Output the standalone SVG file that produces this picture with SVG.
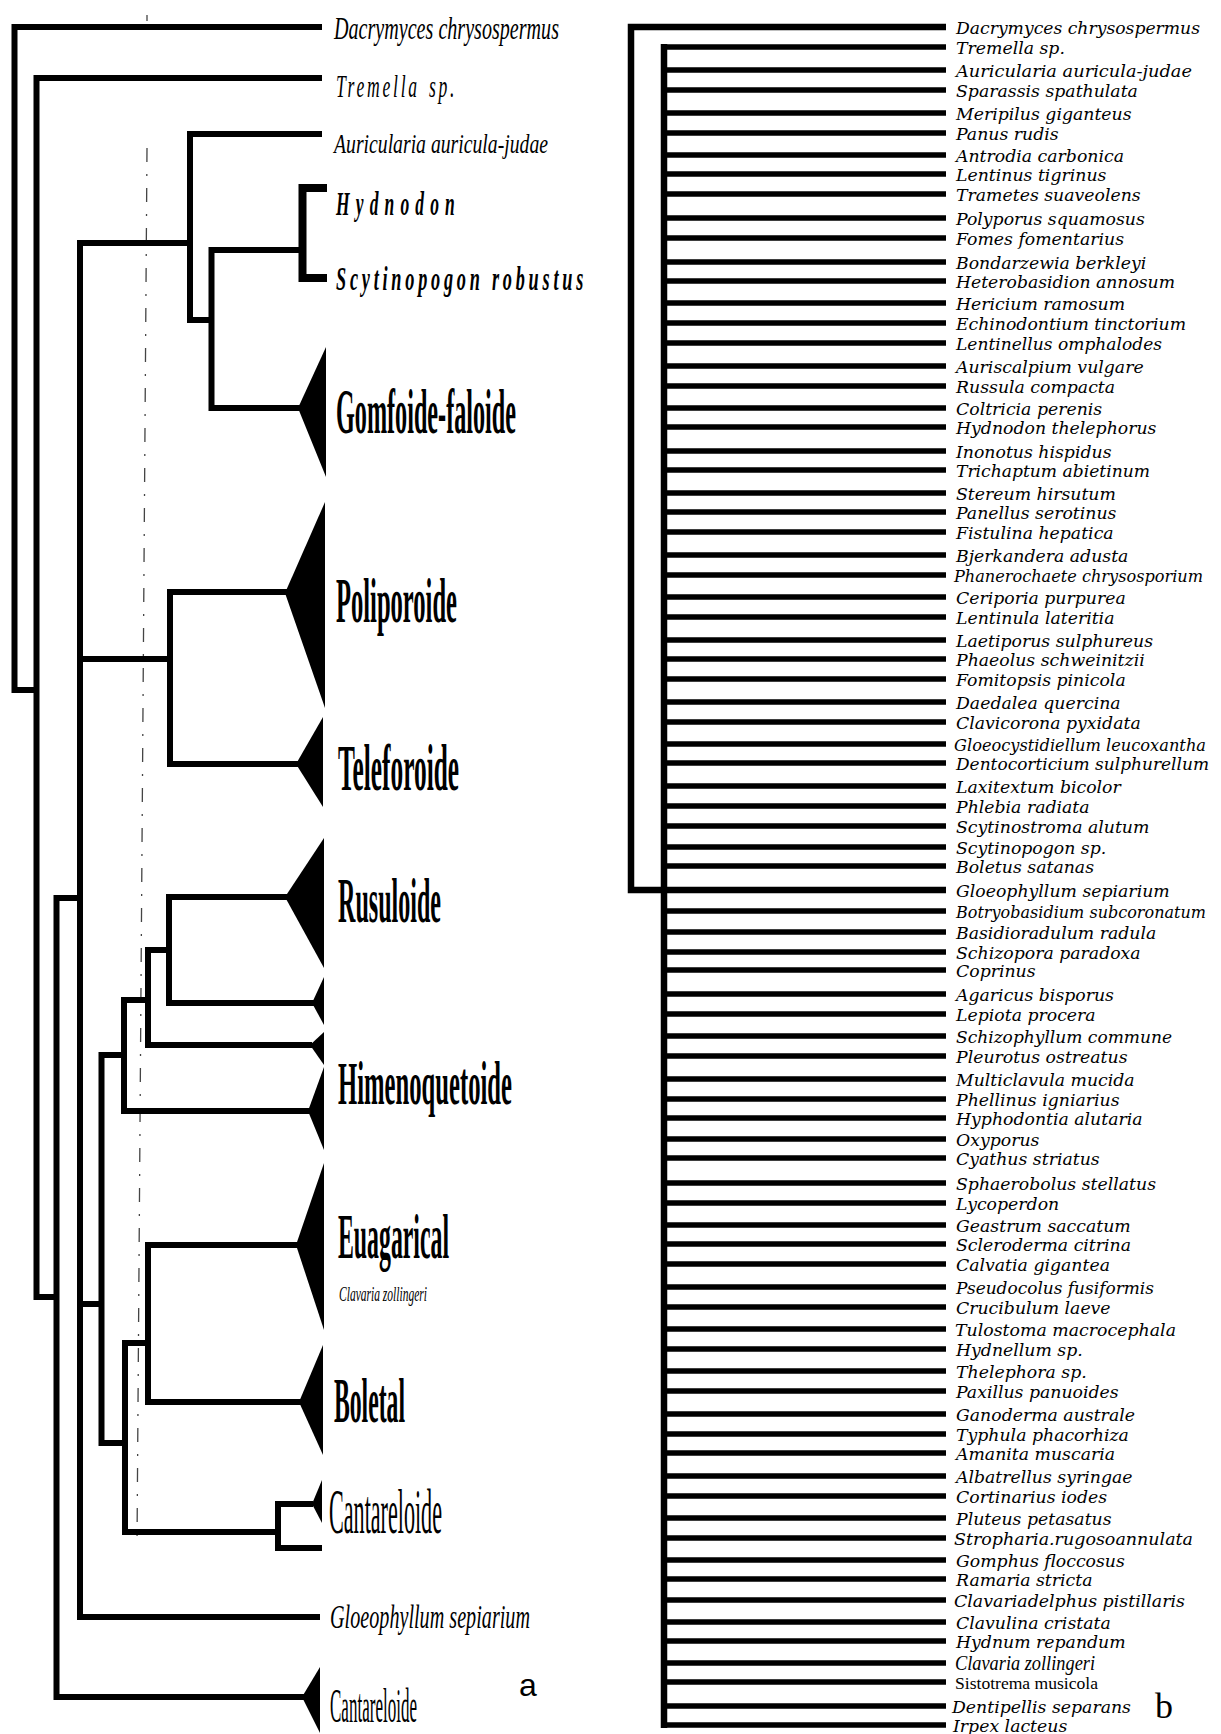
<svg xmlns="http://www.w3.org/2000/svg" width="1221" height="1734" viewBox="0 0 1221 1734">
<style>
.bg{fill:#fff}
.c{fill:none;stroke:#000;stroke-width:6;stroke-linejoin:miter;stroke-linecap:butt}
.ct{fill:none;stroke:#000;stroke-width:8}
.cb{fill:none;stroke:#000;stroke-width:5.5}
.cv{fill:none;stroke:#000;stroke-width:6.5}
.dash{fill:none;stroke:#444;stroke-width:1.3;stroke-dasharray:14 12 2 12}
.tri{fill:#000}
.sp{font-family:"Liberation Serif",serif;font-style:italic;fill:#000}
.grp{font-family:"Liberation Serif",serif;font-weight:bold;fill:#000}
.grr{font-family:"Liberation Serif",serif;fill:#000}
.lb{font-family:"DejaVu Serif",serif;font-style:italic;font-size:17.3px;fill:#000}
</style>
<rect class="bg" x="0" y="0" width="1221" height="1734"/>

<!-- ===== Panel a ===== -->
<g id="connectors-a">
  <path class="dash" d="M147 148 L137 1545"/>
  <path class="dash" d="M147 15 L147 21"/>
  <path class="c" d="M322 27 H14.5 V690 H36.5"/>
  <path class="c" d="M322 78 H36.5 V1297 H56.5"/>
  <path class="c" d="M80 898 H56.5 V1697 H304"/>
  <path class="c" d="M190 243 H80 V1617 H320"/>
  <path class="c" d="M80 659 H170"/>
  <path class="c" d="M80 1304 H101.5"/>
  <path class="c" d="M322 134 H190 V320 H211.5"/>
  <path class="c" d="M302.5 250 H211.5 V408 H300"/>
  <path class="ct" d="M327 188 H302.5 V278 H327"/>
  <path class="c" d="M287 592 H170 V764 H298"/>
  <path class="c" d="M124 1055 H101.5 V1443 H125"/>
  <path class="c" d="M148 1000 H124 V1111 H310"/>
  <path class="c" d="M169 950 H148 V1045 H312"/>
  <path class="c" d="M287 897 H169 V1003 H314"/>
  <path class="c" d="M148 1343 H125 V1532 H278"/>
  <path class="c" d="M298 1245 H148 V1402 H301"/>
  <path class="c" d="M313 1504 H278 V1548 H322"/>
</g>

<g id="a-dacrymyces"><text class="sp" x="334" y="39" font-size="32" textLength="225" lengthAdjust="spacingAndGlyphs">Dacrymyces chrysospermus</text></g>
<g id="a-tremella"><text class="sp" font-size="32" letter-spacing="5" transform="translate(336,97) scale(0.55,1)">Tremella<tspan x="169">sp.</tspan></text></g>
<g id="a-auricularia"><text class="sp" x="334" y="153" font-size="28" textLength="214" lengthAdjust="spacingAndGlyphs">Auricularia auricula-judae</text></g>
<g id="a-hydnodon"><text class="sp" x="336" y="215" font-size="34" font-weight="bold" letter-spacing="12" textLength="125" lengthAdjust="spacingAndGlyphs">Hydnodon</text></g>
<g id="a-scytinopogon"><text class="sp" x="336" y="290" font-size="34" font-weight="bold" letter-spacing="7" textLength="251" lengthAdjust="spacingAndGlyphs">Scytinopogon robustus</text></g>
<g id="a-gomfoide"><polygon class="tri" points="298,408 326,347 326,477"/><text class="grp" x="336" y="433" font-size="64" textLength="180" lengthAdjust="spacingAndGlyphs">Gomfoide-faloide</text></g>
<g id="a-poliporoide"><polygon class="tri" points="285,593 325,502 325,708"/><text class="grp" x="336" y="622" font-size="64" textLength="121" lengthAdjust="spacingAndGlyphs">Poliporoide</text></g>
<g id="a-teleforoide"><polygon class="tri" points="296,764 323,717 323,807"/><text class="grp" x="338" y="790" font-size="66" textLength="121" lengthAdjust="spacingAndGlyphs">Teleforoide</text></g>
<g id="a-rusuloide"><polygon class="tri" points="285,897 324,838 324,968"/><text class="grp" x="338" y="922" font-size="64" textLength="103" lengthAdjust="spacingAndGlyphs">Rusuloide</text></g>
<g id="a-t1"><polygon class="tri" points="312,1003 324,977 324,1025"/></g>
<g id="a-t2"><polygon class="tri" points="310,1045 324,1032 324,1065"/></g>
<g id="a-himenoquetoide"><polygon class="tri" points="308,1111 324,1067 324,1150"/><text class="grp" x="338" y="1104" font-size="62" textLength="174" lengthAdjust="spacingAndGlyphs">Himenoquetoide</text></g>
<g id="a-euagarical"><polygon class="tri" points="296,1245 324,1163 324,1330"/><text class="grp" x="338" y="1258" font-size="64" textLength="111" lengthAdjust="spacingAndGlyphs">Euagarical</text><text class="sp" x="339" y="1301" font-size="22" textLength="88" lengthAdjust="spacingAndGlyphs">Clavaria zollingeri</text></g>
<g id="a-boletal"><polygon class="tri" points="299,1402 323,1345 323,1455"/><text class="grp" x="334" y="1422" font-size="64" textLength="71" lengthAdjust="spacingAndGlyphs">Boletal</text></g>
<g id="a-cantareloide1"><polygon class="tri" points="312,1504 322,1480 322,1523"/><text class="grr" x="329" y="1533" font-size="64" textLength="113" lengthAdjust="spacingAndGlyphs">Cantareloide</text></g>
<g id="a-gloeophyllum"><text class="sp" x="330" y="1628" font-size="34" textLength="200" lengthAdjust="spacingAndGlyphs">Gloeophyllum sepiarium</text></g>
<g id="a-cantareloide2"><polygon class="tri" points="302,1697 320,1667 320,1733"/><text class="grr" font-size="48" transform="translate(330,1722) scale(0.355,1)">Cantareloide</text></g>
<text x="519" y="1696" font-family="Liberation Sans, Arial, sans-serif" font-size="32" fill="#000">a</text>

<!-- ===== Panel b ===== -->
<g id="connectors-b">
  <path class="cv" d="M946 27 H631 V890 H946"/>
  <path class="cv" d="M664 44 V1728"/>
  <path class="cb" d="M664 47H946M664 70H946M664 90H946M664 113H946M664 133H946M664 155H946M664 174H946M664 194H946M664 218H946M664 238H946M664 262H946M664 281H946M664 303H946M664 323H946M664 343H946M664 366H946M664 386H946M664 408H946M664 427H946M664 451H946M664 470H946M664 493H946M664 512H946M664 532H946M664 555H946M664 575H946M664 597H946M664 617H946M664 640H946M664 659H946M664 679H946M664 702H946M664 722H946M664 744H946M664 763H946M664 786H946M664 806H946M664 826H946M664 847H946M664 866H946M664 911H946M664 932H946M664 952H946M664 970H946M664 994H946M664 1014H946M664 1036H946M664 1056H946M664 1079H946M664 1099H946M664 1118H946M664 1139H946M664 1158H946M664 1183H946M664 1203H946M664 1225H946M664 1244H946M664 1264H946M664 1287H946M664 1307H946M664 1329H946M664 1349H946M664 1371H946M664 1391H946M664 1414H946M664 1434H946M664 1453H946M664 1476H946M664 1496H946M664 1518H946M664 1538H946M664 1560H946M664 1579H946M664 1600H946M664 1622H946M664 1641H946M664 1663H946M664 1682H946M664 1706H946M664 1725H946"/>
</g>
<g id="leaves-b">
<g id="b1"><text class="lb" x="956" y="34" textLength="244" lengthAdjust="spacingAndGlyphs">Dacrymyces chrysospermus</text></g>
<g id="b2"><text class="lb" x="956" y="54">Tremella sp.</text></g>
<g id="b3"><text class="lb" x="956" y="77" textLength="236" lengthAdjust="spacingAndGlyphs">Auricularia auricula-judae</text></g>
<g id="b4"><text class="lb" x="956" y="97">Sparassis spathulata</text></g>
<g id="b5"><text class="lb" x="956" y="120">Meripilus giganteus</text></g>
<g id="b6"><text class="lb" x="956" y="140">Panus rudis</text></g>
<g id="b7"><text class="lb" x="956" y="162">Antrodia carbonica</text></g>
<g id="b8"><text class="lb" x="956" y="181">Lentinus tigrinus</text></g>
<g id="b9"><text class="lb" x="956" y="201">Trametes suaveolens</text></g>
<g id="b10"><text class="lb" x="956" y="225">Polyporus squamosus</text></g>
<g id="b11"><text class="lb" x="956" y="245">Fomes fomentarius</text></g>
<g id="b12"><text class="lb" x="956" y="269">Bondarzewia berkleyi</text></g>
<g id="b13"><text class="lb" x="956" y="288" textLength="219" lengthAdjust="spacingAndGlyphs">Heterobasidion annosum</text></g>
<g id="b14"><text class="lb" x="956" y="310">Hericium ramosum</text></g>
<g id="b15"><text class="lb" x="956" y="330" textLength="230" lengthAdjust="spacingAndGlyphs">Echinodontium tinctorium</text></g>
<g id="b16"><text class="lb" x="956" y="350" textLength="206" lengthAdjust="spacingAndGlyphs">Lentinellus omphalodes</text></g>
<g id="b17"><text class="lb" x="956" y="373">Auriscalpium vulgare</text></g>
<g id="b18"><text class="lb" x="956" y="393">Russula compacta</text></g>
<g id="b19"><text class="lb" x="956" y="415">Coltricia perenis</text></g>
<g id="b20"><text class="lb" x="956" y="434">Hydnodon thelephorus</text></g>
<g id="b21"><text class="lb" x="956" y="458">Inonotus hispidus</text></g>
<g id="b22"><text class="lb" x="956" y="477" textLength="194" lengthAdjust="spacingAndGlyphs">Trichaptum abietinum</text></g>
<g id="b23"><text class="lb" x="956" y="500">Stereum hirsutum</text></g>
<g id="b24"><text class="lb" x="956" y="519">Panellus serotinus</text></g>
<g id="b25"><text class="lb" x="956" y="539">Fistulina hepatica</text></g>
<g id="b26"><text class="lb" x="956" y="562">Bjerkandera adusta</text></g>
<g id="b27"><text class="lb" x="954" y="582" style="font-size:16.2px" textLength="249" lengthAdjust="spacingAndGlyphs">Phanerochaete chrysosporium</text></g>
<g id="b28"><text class="lb" x="956" y="604">Ceriporia purpurea</text></g>
<g id="b29"><text class="lb" x="956" y="624">Lentinula lateritia</text></g>
<g id="b30"><text class="lb" x="956" y="647">Laetiporus sulphureus</text></g>
<g id="b31"><text class="lb" x="956" y="666">Phaeolus schweinitzii</text></g>
<g id="b32"><text class="lb" x="956" y="686">Fomitopsis pinicola</text></g>
<g id="b33"><text class="lb" x="956" y="709">Daedalea quercina</text></g>
<g id="b34"><text class="lb" x="956" y="729">Clavicorona pyxidata</text></g>
<g id="b35"><text class="lb" x="954" y="751" style="font-size:16.2px" textLength="252" lengthAdjust="spacingAndGlyphs">Gloeocystidiellum leucoxantha</text></g>
<g id="b36"><text class="lb" x="956" y="770" style="font-size:16.8px" textLength="253" lengthAdjust="spacingAndGlyphs">Dentocorticium sulphurellum</text></g>
<g id="b37"><text class="lb" x="956" y="793">Laxitextum bicolor</text></g>
<g id="b38"><text class="lb" x="956" y="813">Phlebia radiata</text></g>
<g id="b39"><text class="lb" x="956" y="833">Scytinostroma alutum</text></g>
<g id="b40"><text class="lb" x="956" y="854">Scytinopogon sp.</text></g>
<g id="b41"><text class="lb" x="956" y="873">Boletus satanas</text></g>
<g id="b42"><text class="lb" x="956" y="897">Gloeophyllum sepiarium</text></g>
<g id="b43"><text class="lb" x="956" y="918" style="font-size:15.8px" textLength="250" lengthAdjust="spacingAndGlyphs">Botryobasidium subcoronatum</text></g>
<g id="b44"><text class="lb" x="956" y="939">Basidioradulum radula</text></g>
<g id="b45"><text class="lb" x="956" y="959">Schizopora paradoxa</text></g>
<g id="b46"><text class="lb" x="956" y="977">Coprinus</text></g>
<g id="b47"><text class="lb" x="956" y="1001">Agaricus bisporus</text></g>
<g id="b48"><text class="lb" x="956" y="1021">Lepiota procera</text></g>
<g id="b49"><text class="lb" x="956" y="1043" textLength="216" lengthAdjust="spacingAndGlyphs">Schizophyllum commune</text></g>
<g id="b50"><text class="lb" x="956" y="1063">Pleurotus ostreatus</text></g>
<g id="b51"><text class="lb" x="956" y="1086">Multiclavula mucida</text></g>
<g id="b52"><text class="lb" x="956" y="1106">Phellinus igniarius</text></g>
<g id="b53"><text class="lb" x="956" y="1125">Hyphodontia alutaria</text></g>
<g id="b54"><text class="lb" x="956" y="1146">Oxyporus</text></g>
<g id="b55"><text class="lb" x="956" y="1165">Cyathus striatus</text></g>
<g id="b56"><text class="lb" x="956" y="1190">Sphaerobolus stellatus</text></g>
<g id="b57"><text class="lb" x="956" y="1210">Lycoperdon</text></g>
<g id="b58"><text class="lb" x="956" y="1232">Geastrum saccatum</text></g>
<g id="b59"><text class="lb" x="956" y="1251">Scleroderma citrina</text></g>
<g id="b60"><text class="lb" x="956" y="1271">Calvatia gigantea</text></g>
<g id="b61"><text class="lb" x="956" y="1294" textLength="198" lengthAdjust="spacingAndGlyphs">Pseudocolus fusiformis</text></g>
<g id="b62"><text class="lb" x="956" y="1314">Crucibulum laeve</text></g>
<g id="b63"><text class="lb" x="955" y="1336" textLength="221" lengthAdjust="spacingAndGlyphs">Tulostoma macrocephala</text></g>
<g id="b64"><text class="lb" x="956" y="1356">Hydnellum sp.</text></g>
<g id="b65"><text class="lb" x="956" y="1378">Thelephora sp.</text></g>
<g id="b66"><text class="lb" x="956" y="1398">Paxillus panuoides</text></g>
<g id="b67"><text class="lb" x="956" y="1421">Ganoderma australe</text></g>
<g id="b68"><text class="lb" x="956" y="1441">Typhula phacorhiza</text></g>
<g id="b69"><text class="lb" x="956" y="1460">Amanita muscaria</text></g>
<g id="b70"><text class="lb" x="956" y="1483">Albatrellus syringae</text></g>
<g id="b71"><text class="lb" x="956" y="1503">Cortinarius iodes</text></g>
<g id="b72"><text class="lb" x="956" y="1525">Pluteus petasatus</text></g>
<g id="b73"><text class="lb" x="954" y="1545" textLength="239" lengthAdjust="spacingAndGlyphs">Stropharia.rugosoannulata</text></g>
<g id="b74"><text class="lb" x="956" y="1567">Gomphus floccosus</text></g>
<g id="b75"><text class="lb" x="956" y="1586">Ramaria stricta</text></g>
<g id="b76"><text class="lb" x="954" y="1607" textLength="231" lengthAdjust="spacingAndGlyphs">Clavariadelphus pistillaris</text></g>
<g id="b77"><text class="lb" x="956" y="1629">Clavulina cristata</text></g>
<g id="b78"><text class="lb" x="956" y="1648">Hydnum repandum</text></g>
<g id="b79"><text class="sp" x="955" y="1670" font-size="21" textLength="140" lengthAdjust="spacingAndGlyphs">Clavaria zollingeri</text></g>
<g id="b80"><text class="grr" x="955" y="1689" font-size="17" textLength="143" lengthAdjust="spacingAndGlyphs">Sistotrema musicola</text></g>
<g id="b81"><text class="lb" x="952" y="1713">Dentipellis separans</text></g>
<g id="b82"><text class="lb" x="953" y="1732">Irpex lacteus</text></g>
</g>
<text x="1155" y="1718" font-family="Liberation Serif, serif" font-size="36" fill="#000">b</text>
</svg>
